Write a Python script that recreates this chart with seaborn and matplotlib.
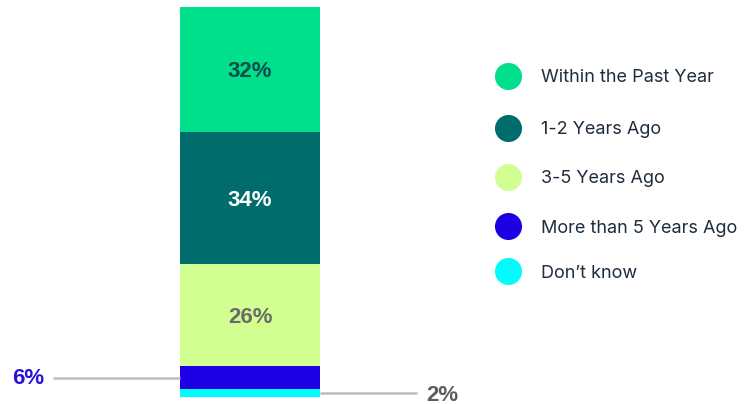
import matplotlib
matplotlib.use("Agg")
import matplotlib.pyplot as plt
import seaborn as sns
import pandas as pd
import numpy as np

categories = ["Within the Past Year", "1-2 Years Ago", "3-5 Years Ago",
              "More than 5 Years Ago", "Don\u2019t know"]
values = [32, 34, 26, 6, 2]
colors = ["#00E08C", "#006C6C", "#D2FF92", "#1E00E4", "#00FCFC"]
label_colors = ["#0F4A4A", "#FFFFFF", "#6B6B6B", "#2A12D8", "#5C5C5C"]

sns.set_theme(style="white")
plt.rcParams["font.family"] = ["Inter", "DejaVu Sans"]

fig = plt.figure(figsize=(7.44, 4.04), dpi=100)
ax = fig.add_axes([0, 0, 1, 1])

rev_vals = values[::-1]
cum = np.cumsum(rev_vals)  # bottom-up tops
for i in range(len(categories)):
    top = cum[len(categories) - 1 - i]
    df = pd.DataFrame({"g": ["all"], "v": [top]})
    sns.barplot(data=df, x="g", y="v", color=colors[i], width=1.0,
                saturation=1, ax=ax, linewidth=0)

ppu_y = 3.9
ax.set_ylim(-7 / ppu_y, 100 + 7 / ppu_y)
ppu_x = 140
ax.set_xlim(-0.5 - 180 / ppu_x, 0.5 + (744 - 320) / ppu_x)
ax.axis("off")

pct_font = ["Liberation Sans", "DejaVu Sans"]

for i in range(3):
    top = cum[len(categories) - 1 - i]
    mid = top - values[i] / 2
    ax.text(0, mid - 0.5, f"{values[i]}%", ha="center", va="center",
            fontsize=16, fontweight="bold", color=label_colors[i], family=pct_font)

i = 3
mid = cum[1] - values[i] / 2
ax.plot([-0.5 - 127 / ppu_x, -0.5], [mid, mid], color="#BDBDBD", lw=1.8,
        solid_capstyle="butt")
ax.text(-0.5 - 136 / ppu_x, mid - 0.3, f"{values[i]}%", ha="right", va="center",
        fontsize=16, fontweight="bold", color=label_colors[i], family=pct_font)

i = 4
mid = cum[0] - values[i] / 2
ax.plot([0.5, 0.5 + 97 / ppu_x], [mid, mid], color="#BDBDBD", lw=1.8,
        solid_capstyle="butt")
ax.text(0.5 + 106 / ppu_x, mid - 0.5, f"{values[i]}%", ha="left", va="center",
        fontsize=16, fontweight="bold", color=label_colors[i], family=pct_font)

leg_y = [76, 128, 177, 226, 271]
for i, cat in enumerate(categories):
    yf = 1 - leg_y[i] / 404
    ax.scatter([508 / 744], [yf], s=380, color=colors[i], transform=fig.transFigure,
               clip_on=False, linewidths=0, zorder=5)
    ax.text(541 / 744, yf - 2 / 404, cat, transform=fig.transFigure, ha="left",
            va="center", fontsize=13, color="#1F2D3D")

fig.savefig("out.png", dpi=100)
